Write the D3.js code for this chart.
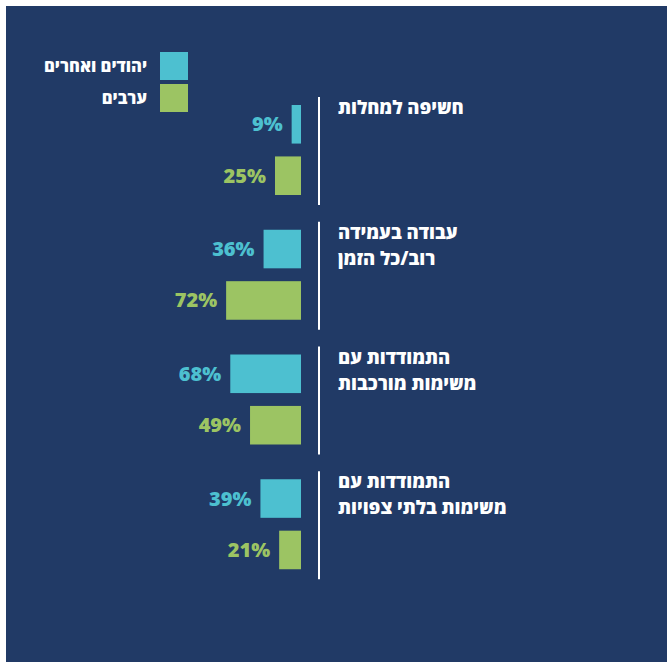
<!DOCTYPE html>
<html><head><meta charset="utf-8">
<script src="https://cdn.jsdelivr.net/npm/d3@7"></script>
<style>html,body{margin:0;padding:0;background:#fff;}svg{display:block;}</style>
</head><body>
<script>
const categories = [
  ["חשיפה למחלות"],
  ["עבודה בעמידה", "רוב/כל הזמן"],
  ["התמודדות עם", "משימות מורכבות"],
  ["התמודדות עם", "משימות בלתי צפויות"]
];
const seriesNames = ["יהודים ואחרים", "ערבים"];
const jewsOthers = [9, 36, 68, 39];
const arabs = [25, 72, 49, 21];
const series = [jewsOthers, arabs];
const colors = ["#4dc0d0", "#9cc463"];

const W = 667, H = 662;
const svg = d3.select("body").append("svg").attr("width", W).attr("height", H);
svg.append("rect").attr("x", 6).attr("y", 6).attr("width", W - 6).attr("height", H - 6).attr("fill", "#213a66");

const hebFont = "'Open Sans','DejaVu Sans',sans-serif";
const numFont = "'Open Sans','DejaVu Sans',sans-serif";
const baseX = 301;
const x = d3.scaleLinear().domain([0, 100]).range([0, 104]);
const groupY = d3.scaleBand().domain(d3.range(categories.length)).range([105, 604]);
const barY = d3.scaleBand().domain([0, 1]).range([0, 90]).paddingInner(0.25);
const lineX = 319;

const groups = svg.selectAll("g.grp").data(categories).join("g")
  .attr("class", "grp")
  .attr("transform", (d, i) => `translate(0,${groupY(i)})`);

groups.append("line")
  .attr("x1", lineX).attr("x2", lineX).attr("y1", -8).attr("y2", 100)
  .attr("stroke", "#fff").attr("stroke-width", 2);

groups.each(function (cat, i) {
  const g = d3.select(this);
  series.forEach((s, k) => {
    const v = s[i];
    const w = x(v);
    const by = barY(k);
    const bh = barY.bandwidth();
    g.append("rect")
      .attr("x", baseX - w).attr("y", by).attr("width", w).attr("height", bh)
      .attr("fill", colors[k]);
    g.append("text")
      .attr("x", baseX - w - 9).attr("y", by + bh / 2 + 7)
      .attr("text-anchor", "end")
      .attr("font-family", numFont).attr("font-weight", 800).attr("font-size", 20)
      .attr("fill", colors[k])
      .text(v + "%");
  });
  cat.forEach((line, j) => {
    g.append("text")
      .attr("x", 338).attr("y", 9 + j * 26)
      .attr("direction", "rtl")
      .attr("text-anchor", "end")
      .attr("font-family", hebFont).attr("font-weight", 800).attr("font-size", 18.5)
      .attr("fill", "#fff")
      .text(line);
  });
});

// legend
const legend = svg.append("g");
seriesNames.forEach((name, k) => {
  const y0 = 52 + k * 32;
  legend.append("rect").attr("x", 160).attr("y", y0).attr("width", 28).attr("height", 28).attr("fill", colors[k]);
  legend.append("text")
    .attr("x", 147).attr("y", y0 + 20)
    .attr("direction", "rtl")
    .attr("text-anchor", "start")
    .attr("font-family", hebFont).attr("font-weight", 800).attr("font-size", 16.5)
    .attr("fill", "#fff")
    .text(name);
});
</script>
</body></html>
